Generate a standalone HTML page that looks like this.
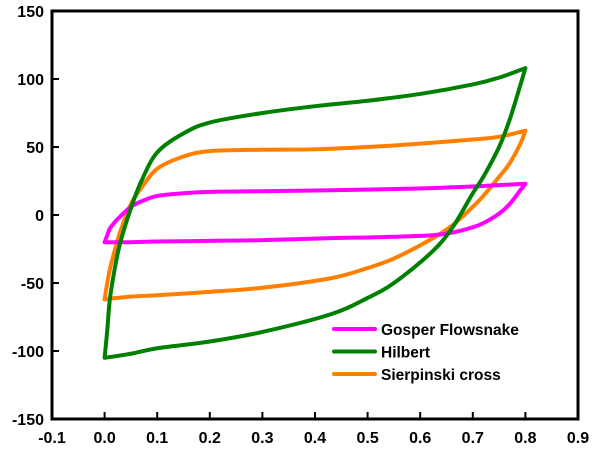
<!DOCTYPE html>
<html><head><meta charset="utf-8"><style>
body{margin:0;background:#fff}
svg{display:block;font-family:"Liberation Sans",Arial,sans-serif;font-weight:bold}
</style></head><body>
<svg id="chart" width="602" height="451" viewBox="0 0 602 451" xmlns="http://www.w3.org/2000/svg">
<g id="grid"></g>
<g id="series"></g>
<g id="legend"></g>
</svg>
<script>
const xTicks=[-0.1,0,0.1,0.2,0.3,0.4,0.5,0.6,0.7,0.8,0.9];
const xTickLabels=["-0.1","0.0","0.1","0.2","0.3","0.4","0.5","0.6","0.7","0.8","0.9"];
const yTicks=[-150,-100,-50,0,50,100,150];
const seriesNames=["Gosper Flowsnake","Hilbert","Sierpinski cross"];
const seriesColors=["#ff00ff","#008000","#ff8000"];
// upper (forward) branch x values and lower (reverse) branch x values
const upX=[0,0.005,0.01,0.02,0.03,0.05,0.07,0.1,0.15,0.2,0.3,0.4,0.5,0.6,0.7,0.75,0.8];
const gosperUp=[-20,-15,-10,-5,-1,6,10,14,16,17,17.5,18,18.7,19.5,21,22,23];
const hilbertUp=[-105,-85,-62,-38,-20,5,25,46,60,68,75,80,84,89,96,101,108];
const sierpUp=[-62,-50,-40,-25,-12,8,20,34,43,47,48,48.3,50,52.5,55.5,57.5,62];
const downX=[0.8,0.79,0.77,0.75,0.72,0.7,0.66,0.62,0.55,0.5,0.43,0.3,0.2,0.1,0.05,0];
const gosperDown=[23,18,8,1,-6,-9,-13,-15,-16,-16.5,-17,-18.5,-19,-19.5,-20,-20];
const hilbertDown=[108,95,70,50,28,16,-10,-28,-50,-61,-73,-86,-93,-98,-102,-105];
const sierpDown=[62,52,38,28,14,6,-8,-18,-32,-39,-46.5,-53.5,-56.5,-59,-60,-62];

const X0=52,X1=578,Y0=11,Y1=419;
const xs=v=>X0+(v+0.1)/1.0*(X1-X0);
const ys=v=>Y1-(v+150)/300*(Y1-Y0);
const NS="http://www.w3.org/2000/svg";
function mk(t,a,p){const e=document.createElementNS(NS,t);for(const k in a)e.setAttribute(k,a[k]);p.appendChild(e);return e;}
const grid=document.getElementById('grid');
const frame=mk('rect',{x:X0,y:Y0,width:X1-X0,height:Y1-Y0,fill:'none',stroke:'#000','stroke-width':3},grid);


xTicks.forEach((v,i)=>{
  const l=mk('line',{x1:xs(v),x2:xs(v),y1:Y1,y2:Y1-7,stroke:'#000','stroke-width':2},grid);
  
  
  const t=mk('text',{x:xs(v),y:Y1+24,'text-anchor':'middle','font-size':16,fill:'#000'},grid);
  t.textContent=xTickLabels[i];
  
  
});
yTicks.forEach(v=>{
  const l=mk('line',{x1:X0,x2:X0+7,y1:ys(v),y2:ys(v),stroke:'#000','stroke-width':2},grid);
  
  
  const t=mk('text',{x:X0-8,y:ys(v)+6,'text-anchor':'end','font-size':16,fill:'#000'},grid);
  t.textContent=String(v);
  
  
});
const ser=document.getElementById('series');
const ups=[gosperUp,hilbertUp,sierpUp],downs=[gosperDown,hilbertDown,sierpDown];
function smooth(pts){
  let d='M'+pts[0][0]+','+pts[0][1];
  for(let i=0;i<pts.length-1;i++){
    const p0=pts[Math.max(0,i-1)],p1=pts[i],p2=pts[i+1],p3=pts[Math.min(pts.length-1,i+2)];
    const c1=[p1[0]+(p2[0]-p0[0])/6,p1[1]+(p2[1]-p0[1])/6];
    const c2=[p2[0]-(p3[0]-p1[0])/6,p2[1]-(p3[1]-p1[1])/6];
    d+=' C'+c1[0]+','+c1[1]+' '+c2[0]+','+c2[1]+' '+p2[0]+','+p2[1];
  }
  return d;
}
[2,0,1].forEach(s=>{
  const up=upX.map((x,i)=>[xs(x),ys(ups[s][i])]);
  const dn=downX.map((x,i)=>[xs(x),ys(downs[s][i])]);
  const p=mk('path',{d:smooth(up)+' '+smooth(dn).replace('M','L'),fill:'none',stroke:seriesColors[s],'stroke-width':4,'stroke-linejoin':'round','stroke-linecap':'round'},ser);
  
  
});
const leg=document.getElementById('legend');
seriesNames.forEach((n,i)=>{
  const y=329+i*22.5;
  const l=mk('line',{x1:334,x2:375,y1:y,y2:y,stroke:seriesColors[i],'stroke-width':4,'stroke-linecap':'round'},leg);
  
  
  const t=mk('text',{x:381,y:y+6,'font-size':15.5,fill:'#000'},leg);
  t.textContent=n;
  
  
});
</script>
</body></html>
